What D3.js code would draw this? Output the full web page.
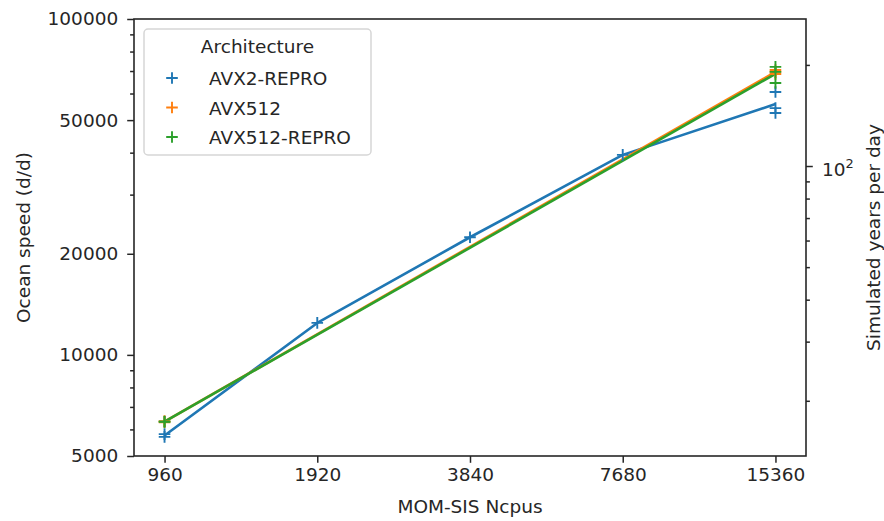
<!DOCTYPE html>
<html>
<head>
<meta charset="utf-8">
<script src="https://cdn.jsdelivr.net/npm/d3@7"></script>
<style>
  body { margin: 0; background: #fff; }
  text { font-family: "DejaVu Sans", sans-serif; fill: #262626; }
</style>
</head>
<body>
<svg class="speedChart"></svg>
<script>
// values
const ncpus = [960, 1920, 3840, 7680, 15360];
const archs = ["AVX2-REPRO", "AVX512", "AVX512-REPRO"];
const colors = ["#1f77b4", "#ff7f0e", "#2ca02c"];

// individual runs per ncpus (ocean speed, d/d); empty = not measured
const runsAvx2Repro = [[5810, 5700], [12450], [22400], [39400], [60600, 54300, 52500]];
const runsAvx512 = [[6350, 6300], [], [], [], [70500, 69600, 68600]];
const runsAvx512Repro = [[6320, 6330], [], [], [], [72000, 69600, 64500]];

const leftMajor = [5000, 10000, 20000, 50000, 100000];
const leftMinor = [6000, 7000, 8000, 9000, 30000, 40000, 60000, 70000, 80000, 90000];
const rightMajor = [100];
const rightMinor = [20, 30, 40, 50, 60, 70, 80, 90, 200];
const daysPerYear = 365;

const W = 884, H = 521;
const box = { left: 134, right: 806, top: 19, bottom: 456 };
const fs = 18.5;

const svg = d3.select("svg.speedChart").attr("width", W).attr("height", H);

const x = d3.scaleLog().base(2)
    .domain([960 / Math.pow(2, 0.2), 15360 * Math.pow(2, 0.2)])
    .range([box.left, box.right]);
const y = d3.scaleLog().domain([5000, 100000]).range([box.bottom, box.top]);
const y2 = d3.scaleLog().domain([5000 / daysPerYear, 100000 / daysPerYear]).range([box.bottom, box.top]);

const allRuns = [runsAvx2Repro, runsAvx512, runsAvx512Repro];

// lines through the mean of each ncpus
const line = d3.line().x(d => x(d[0])).y(d => y(d[1]));
allRuns.forEach((runs, i) => {
    const pts = ncpus.map((n, j) => [n, runs[j].length ? d3.mean(runs[j]) : null])
        .filter(d => d[1] != null);
    svg.append("path")
        .datum(pts)
        .attr("fill", "none")
        .attr("stroke", colors[i])
        .attr("stroke-width", 2.6)
        .attr("stroke-linejoin", "round")
        .attr("d", line);
});

// "+" markers for every run
function plus(g, cx, cy, color, r) {
    g.append("path")
        .attr("d", `M${cx - r},${cy}H${cx + r}M${cx},${cy - r}V${cy + r}`)
        .attr("stroke", color)
        .attr("stroke-width", 1.9)
        .attr("fill", "none");
}
allRuns.forEach((runs, i) => {
    const g = svg.append("g");
    runs.forEach((vals, j) => vals.forEach(v => plus(g, x(ncpus[j]), y(v), colors[i], 5.8)));
});

// axes
const xAxis = d3.axisBottom(x).tickValues(ncpus).tickFormat(d3.format("d")).tickSize(6.8).tickPadding(5);
svg.append("g").attr("transform", `translate(0,${box.bottom})`).call(xAxis);

svg.append("g").attr("transform", `translate(${box.left},0)`)
    .call(d3.axisLeft(y).tickValues(leftMajor).tickFormat(d3.format("d")).tickSize(6.8).tickPadding(9));
svg.append("g").attr("transform", `translate(${box.left},0)`)
    .call(d3.axisLeft(y).tickValues(leftMinor).tickFormat("").tickSize(3.9));

svg.append("g").attr("transform", `translate(${box.right},0)`)
    .call(d3.axisRight(y2).tickValues(rightMajor).tickFormat("").tickSize(6.8));
svg.append("g").attr("transform", `translate(${box.right},0)`)
    .call(d3.axisRight(y2).tickValues(rightMinor).tickFormat("").tickSize(3.9));

// 10^2 label with superscript
rightMajor.forEach(v => {
    const t = svg.append("text")
        .attr("x", box.right + 16)
        .attr("y", y2(v) + 10)
        .attr("font-size", fs);
    t.append("tspan").text("10");
    t.append("tspan").attr("font-size", fs * 0.7).attr("dy", -8).text(Math.log10(v));
});

svg.selectAll(".domain").remove();
svg.selectAll(".tick line").attr("stroke", "#262626").attr("stroke-width", 1.5);
svg.selectAll(".tick text").attr("font-size", fs).attr("font-family", "DejaVu Sans").attr("fill", "#262626");

// frame
svg.append("rect")
    .attr("x", box.left).attr("y", box.top)
    .attr("width", box.right - box.left).attr("height", box.bottom - box.top)
    .attr("fill", "none").attr("stroke", "#262626").attr("stroke-width", 1.6);

// axis labels
svg.append("text")
    .attr("x", (box.left + box.right) / 2).attr("y", 513)
    .attr("text-anchor", "middle").attr("font-size", fs)
    .text("MOM-SIS Ncpus");
svg.append("text")
    .attr("transform", `translate(30,${(box.top + box.bottom) / 2}) rotate(-90)`)
    .attr("text-anchor", "middle").attr("font-size", fs)
    .text("Ocean speed (d/d)");
svg.append("text")
    .attr("transform", `translate(880,${(box.top + box.bottom) / 2}) rotate(-90)`)
    .attr("text-anchor", "middle").attr("font-size", fs)
    .text("Simulated years per day");

// legend
const lg = svg.append("g");
lg.append("rect")
    .attr("x", 144).attr("y", 29).attr("width", 227).attr("height", 126)
    .attr("rx", 4).attr("fill", "#fff").attr("fill-opacity", 0.8)
    .attr("stroke", "#d6d6d6").attr("stroke-width", 1.5);
lg.append("text")
    .attr("x", 257.5).attr("y", 53).attr("text-anchor", "middle").attr("font-size", fs)
    .text("Architecture");
archs.forEach((a, i) => {
    const cy = 78 + i * 29.5;
    plus(lg, 172, cy, colors[i], 5.8);
    lg.append("text").attr("x", 209).attr("y", cy + 7).attr("font-size", fs).text(a);
});
</script>
</body>
</html>
